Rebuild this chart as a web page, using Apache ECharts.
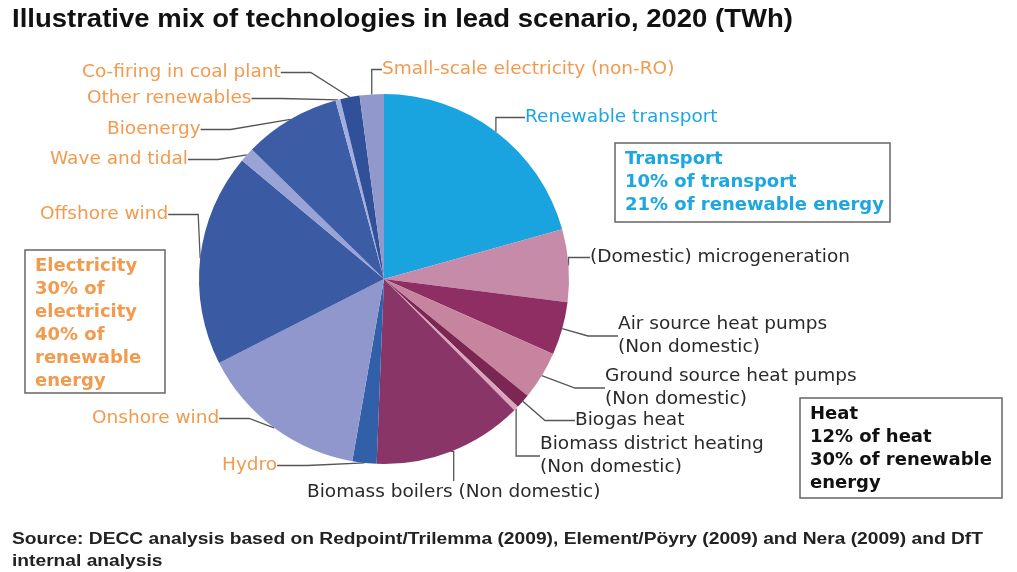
<!DOCTYPE html>
<html>
<head>
<meta charset="utf-8">
<script src="https://cdn.jsdelivr.net/npm/echarts@6/dist/echarts.min.js"></script>
<style>
  html, body { margin: 0; padding: 0; background: #ffffff; }
  #chart { width: 1017px; height: 572px; }
</style>
</head>
<body>
<div id="chart"></div>
<script>
// Technologies in clockwise order from 12 o'clock
const technologies = [
  'Renewable transport',
  '(Domestic) microgeneration',
  'Air source heat pumps\n(Non domestic)',
  'Ground source heat pumps\n(Non domestic)',
  'Biogas heat',
  'Biomass district heating\n(Non domestic)',
  'Biomass boilers (Non domestic)',
  'Hydro',
  'Onshore wind',
  'Offshore wind',
  'Wave and tidal',
  'Bioenergy',
  'Other renewables',
  'Co-firing in coal plant',
  'Small-scale electricity (non-RO)'
];

// Contribution in 2020, TWh
const twh = [49, 15, 11, 10, 3, 1, 31, 5, 35, 44, 3, 20, 1, 4, 5];

// Sector each technology belongs to
const sector = [
  'transport', 'heat', 'heat', 'heat', 'heat', 'heat', 'heat',
  'electricity', 'electricity', 'electricity', 'electricity',
  'electricity', 'electricity', 'electricity', 'electricity'
];

const sliceColors = [
  '#19A3DF', '#C68BA8', '#8E2E62', '#C7849F', '#7C2652', '#D9A6BF', '#8A3568',
  '#3260A8', '#8F97CC', '#3A5BA3', '#9AA3D6', '#3C5DA6', '#A3AEE0', '#30509A', '#9198CC'
];

const sectorTextColor = {
  transport: '#1CA6E2',
  heat: '#2a2a2a',
  electricity: '#F29A4E'
};

// Top-left corner of each slice label
const labelAnchors = [
  [525, 106], [590, 246], [618, 313], [605, 365], [575, 409], [540, 433],
  [307, 481], [222, 454], [92, 407], [40, 203], [50, 148], [107, 118],
  [87, 87], [82, 61], [382, 58]
];

// Summary boxes
const boxes = [
  { x: 615, y: 143, w: 275, h: 79, color: sectorTextColor.transport,
    text: 'Transport\n10% of transport\n21% of renewable energy' },
  { x: 25, y: 250, w: 140, h: 143, color: sectorTextColor.electricity,
    text: 'Electricity\n30% of\nelectricity\n40% of\nrenewable\nenergy' },
  { x: 800, y: 398, w: 202, h: 100, color: '#111111',
    text: 'Heat\n12% of heat\n30% of renewable\nenergy' }
];

const titleText = 'Illustrative mix of technologies in lead scenario, 2020 (TWh)';
const sourceText = 'Source: DECC analysis based on Redpoint/Trilemma (2009), Element/P\u00f6yry (2009) and Nera (2009) and DfT\ninternal analysis';

const chart = echarts.init(document.getElementById('chart'), null, { renderer: 'canvas' });

const pieData = technologies.map((name, i) => ({
  name: name,
  value: twh[i],
  itemStyle: { color: sliceColors[i] },
  label: { color: sectorTextColor[sector[i]] }
}));

const graphics = [
  {
    type: 'text', x: 12, y: 8, scaleX: 1.1,
    style: {
      text: titleText, fill: '#111',
      font: 'bold 25px "Liberation Sans", Arial, sans-serif'
    }
  },
  {
    type: 'text', x: 12, y: 529, scaleX: 1.2,
    style: {
      text: sourceText, fill: '#222', lineHeight: 22,
      font: 'bold 16px "Liberation Sans", Arial, sans-serif'
    }
  }
];

boxes.forEach(b => {
  graphics.push({
    type: 'rect',
    shape: { x: b.x, y: b.y, width: b.w, height: b.h },
    style: { fill: '#fff', stroke: '#666', lineWidth: 1.5 }
  });
  graphics.push({
    type: 'text', x: b.x + 10, y: b.y + 5,
    style: {
      text: b.text, fill: b.color, lineHeight: 23,
      font: 'bold 18px "DejaVu Sans", sans-serif'
    }
  });
});

chart.setOption({
  backgroundColor: '#ffffff',
  animation: false,
  graphic: graphics,
  series: [{
    type: 'pie',
    center: [384, 279],
    radius: [0, 185],
    startAngle: 90,
    clockwise: true,
    avoidLabelOverlap: false,
    data: pieData,
    itemStyle: { borderWidth: 0 },
    label: {
      show: true,
      position: 'outside',
      fontFamily: '"DejaVu Sans", sans-serif',
      fontSize: 18.5,
      lineHeight: 23,
      align: 'left'
    },
    labelLine: {
      show: true,
      lineStyle: { color: '#555', width: 1.3 }
    },
    labelLayout: function (params) {
      const p = labelAnchors[params.dataIndex];
      return { x: p[0], y: p[1], align: 'left', verticalAlign: 'top' };
    },
    emphasis: { disabled: true }
  }]
});
</script>
</body>
</html>
